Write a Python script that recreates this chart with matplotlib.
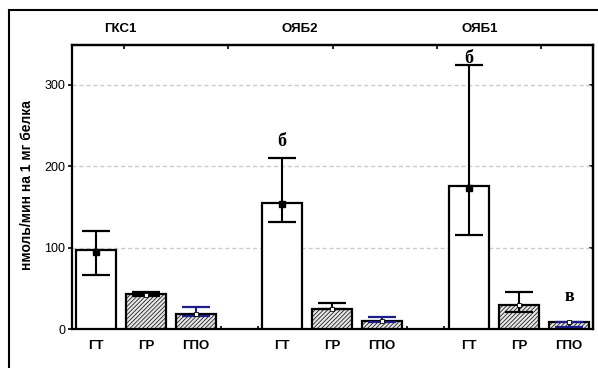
import numpy as np
import matplotlib
matplotlib.use('Agg')
import matplotlib.pyplot as plt
from matplotlib.patches import Rectangle

groups = ['ГКС1', 'ОЯБ2', 'ОЯБ1']
enzymes = ['ГТ', 'ГР', 'ГПО']
# bar heights, point markers, error bar ends
bar_vals = [[97, 43, 19], [155, 25, 10], [176, 30, 8]]
point_vals = [[95, 42, 19], [153, 25, 10], [173, 30, 8]]
err_low = [[66, 40, 16], [132, 24, 8], [116, 21, 3]]
err_high = [[121, 45, 27], [210, 32, 15], [324, 46, 9]]
marks = [(1, 0, 'б', 230), (2, 0, 'б', 333), (2, 2, 'в', 40)]

group_start = [0, 3.72, 7.46]
fill_cols = ['white', '#e6e6e6', '#e6e6e6']
hatches = [None, '////////', '////////']
err_cols = ['black', 'black', '#1c1c8a']

plt.rcParams['hatch.color'] = '#6a6a6a'
plt.rcParams['hatch.linewidth'] = 0.5
plt.rcParams['font.family'] = ['Liberation Sans', 'DejaVu Sans']

fig = plt.figure(figsize=(5.98, 3.68), dpi=100)
ax = fig.add_axes([72/598, 39/368, 521/598, 284/368])

xt = []
xl = []
for g in range(3):
    for i in range(3):
        x = group_start[g] + i
        xt.append(x)
        xl.append(enzymes[i])
        ax.bar(x, bar_vals[g][i], width=0.8, color=fill_cols[i], edgecolor='black',
               linewidth=1.6, hatch=hatches[i], zorder=3)
        v = point_vals[g][i]
        ax.errorbar(x, v, yerr=[[v - err_low[g][i]], [err_high[g][i] - v]], fmt='none',
                    ecolor=err_cols[i], elinewidth=1.5, capsize=10, capthick=1.6, zorder=4)
        if i == 0:
            ax.plot(x, v, 's', ms=4, color='black', zorder=5)
        else:
            ax.plot(x, v, 's', ms=2.5, mfc='white', mec='black', mew=0.6, zorder=5)

for g, i, txt, y in marks:
    ax.text(group_start[g] + i, y, txt, ha='center', va='center', fontsize=13,
            fontweight='bold', family='Liberation Serif', zorder=6)

ax.set_xlim(-0.48, 9.94)
ax.set_ylim(0, 349)
ax.set_yticks([0, 100, 200, 300])
ax.yaxis.grid(True, linestyle=(0, (3, 2)), color='#cccccc', linewidth=1)
ax.set_axisbelow(True)
ax.tick_params(axis='y', labelsize=9, length=3, width=1.2, direction='out', pad=2)

# bottom: no major ticks, labels under bars; small inner minor ticks
ax.set_xticks(xt)
ax.set_xticklabels(xl, fontsize=9.5, fontweight='bold')
ax.tick_params(axis='x', length=0, pad=8)
x0, x1 = ax.get_xlim()
ax.set_xticks(np.linspace(x0, x1, 15)[1:-1], minor=True)
ax.tick_params(axis='x', which='minor', direction='in', length=2.5, width=1.2)

# top and right ticks
top = ax.secondary_xaxis('top')
top.set_xticks(x0 + (x1 - x0) * (np.arange(5) + 0.5) / 5)
top.set_xticklabels([])
top.tick_params(direction='in', length=3, width=1.2)
top.spines['top'].set_linewidth(1.6)
right = ax.secondary_yaxis('right')
right.set_yticks([100, 200, 300])
right.set_yticklabels([])
right.tick_params(direction='in', length=3, width=1.2)
right.spines['right'].set_linewidth(1.6)

for s in ax.spines.values():
    s.set_linewidth(1.6)

# group labels above the plot
for g in range(3):
    fig.text((120 + 180 * g) / 598, 1 - 29 / 368, groups[g], ha='center', va='center',
             fontsize=9.5, fontweight='bold')

fig.text(27 / 598, 1 - 185 / 368, 'нмоль/мин на 1 мг белка', rotation=90,
         ha='center', va='center', fontsize=10, fontweight='bold')

# outer frame of the figure panel
fig.patches.append(Rectangle((8.5 / 598, -0.1), 1.0, 1 - 10 / 368 + 0.1,
                             transform=fig.transFigure, fill=False,
                             edgecolor='black', linewidth=1.5))

fig.savefig('out.png', dpi=100)
